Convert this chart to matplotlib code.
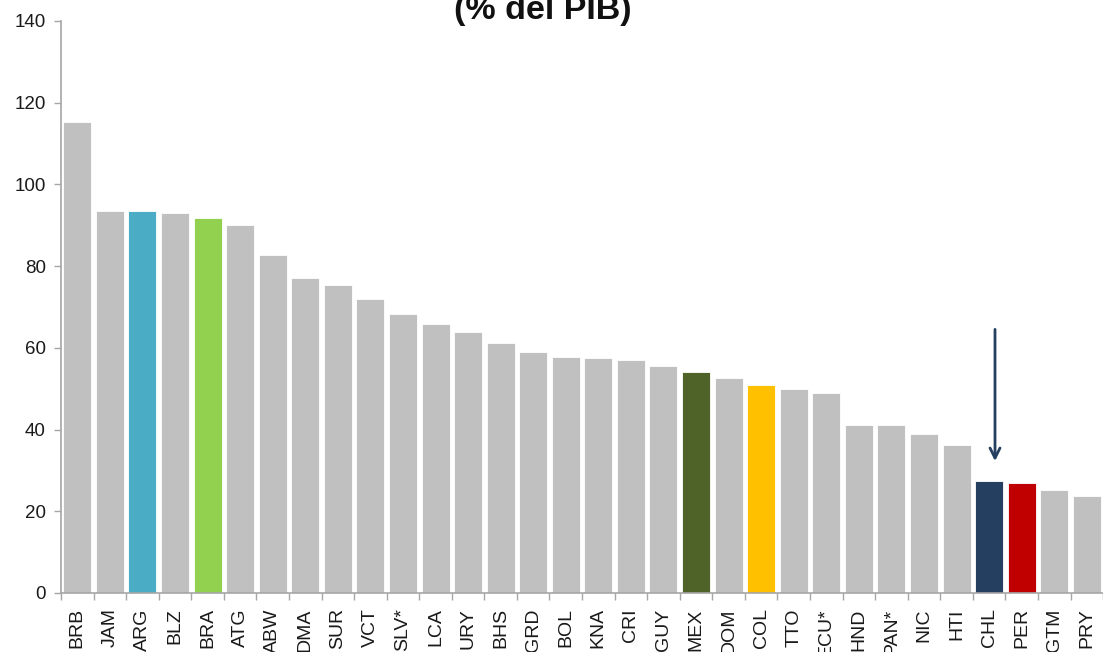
import matplotlib.pyplot as plt
from matplotlib.ticker import FixedLocator

plt.rcParams['font.family'] = ['Liberation Sans', 'DejaVu Sans']

paises = ["BRB", "JAM", "ARG", "BLZ", "BRA", "ATG", "ABW", "DMA", "SUR", "VCT", "SLV*",
          "LCA", "URY", "BHS", "GRD", "BOL", "KNA", "CRI", "GUY", "MEX", "DOM", "COL",
          "TTO", "ECU*", "HND", "PAN*", "NIC", "HTI", "CHL", "PER", "GTM", "PRY"]
deuda = [115.3, 93.6, 93.6, 93.1, 91.7, 90.1, 82.7, 77.0, 75.5, 71.9, 68.3,
         65.8, 64.0, 61.2, 59.1, 57.8, 57.4, 57.0, 55.5, 54.0, 52.5, 51.0,
         49.9, 48.9, 41.2, 41.2, 39.0, 36.2, 27.4, 26.8, 25.2, 23.7]

gris = "#c0c0c0"
destacados = {"ARG": "#4bacc6", "BRA": "#92d050", "MEX": "#4f6228",
              "COL": "#ffc000", "CHL": "#243f60", "PER": "#c00000"}
colores = [destacados.get(p, gris) for p in paises]

# flecha sobre Chile
flecha_x = paises.index("CHL") + 0.18
flecha_desde = 65.2
flecha_hasta = 31.6

fig = plt.figure(figsize=(11.03, 6.52), dpi=100)
ax = fig.add_axes([0.0553, 0.0905, 0.9447 + 0.001, 0.8773])

x = range(len(paises))
ax.bar(x, deuda, width=0.86, color=colores, edgecolor="white", linewidth=0.6, zorder=2)

ax.set_xlim(-0.5, len(paises) - 0.5 + 0.03)
ax.set_ylim(0, 140)
ax.set_yticks(range(0, 141, 20))

ax.set_xticks(list(x))
ax.set_xticklabels(paises, rotation=90, fontsize=14, color="#1a1a1a")
ax.tick_params(axis="x", which="major", length=0, pad=11)
ax.xaxis.set_minor_locator(FixedLocator([i - 0.5 for i in range(len(paises) + 1)]))
ax.tick_params(axis="x", which="minor", length=5, width=1, color="#a6a6a6")
ax.tick_params(axis="y", length=5, width=1, color="#a6a6a6", pad=6,
               labelsize=13.5, labelcolor="#1a1a1a")

for lado in ["top", "right"]:
    ax.spines[lado].set_visible(False)
for lado in ["left", "bottom"]:
    ax.spines[lado].set_color("#a6a6a6")
    ax.spines[lado].set_linewidth(1.2)

ax.annotate("", xy=(flecha_x, flecha_hasta), xytext=(flecha_x, flecha_desde),
            arrowprops=dict(arrowstyle="->", color="#243f60", lw=2,
                            mutation_scale=18), zorder=3)

fig.text(0.4925, 1 - 19 / 652, "(% del PIB)", ha="center", va="baseline",
         fontsize=24.5, fontweight="bold", color="#111111")

fig.savefig("out.png", dpi=100)
